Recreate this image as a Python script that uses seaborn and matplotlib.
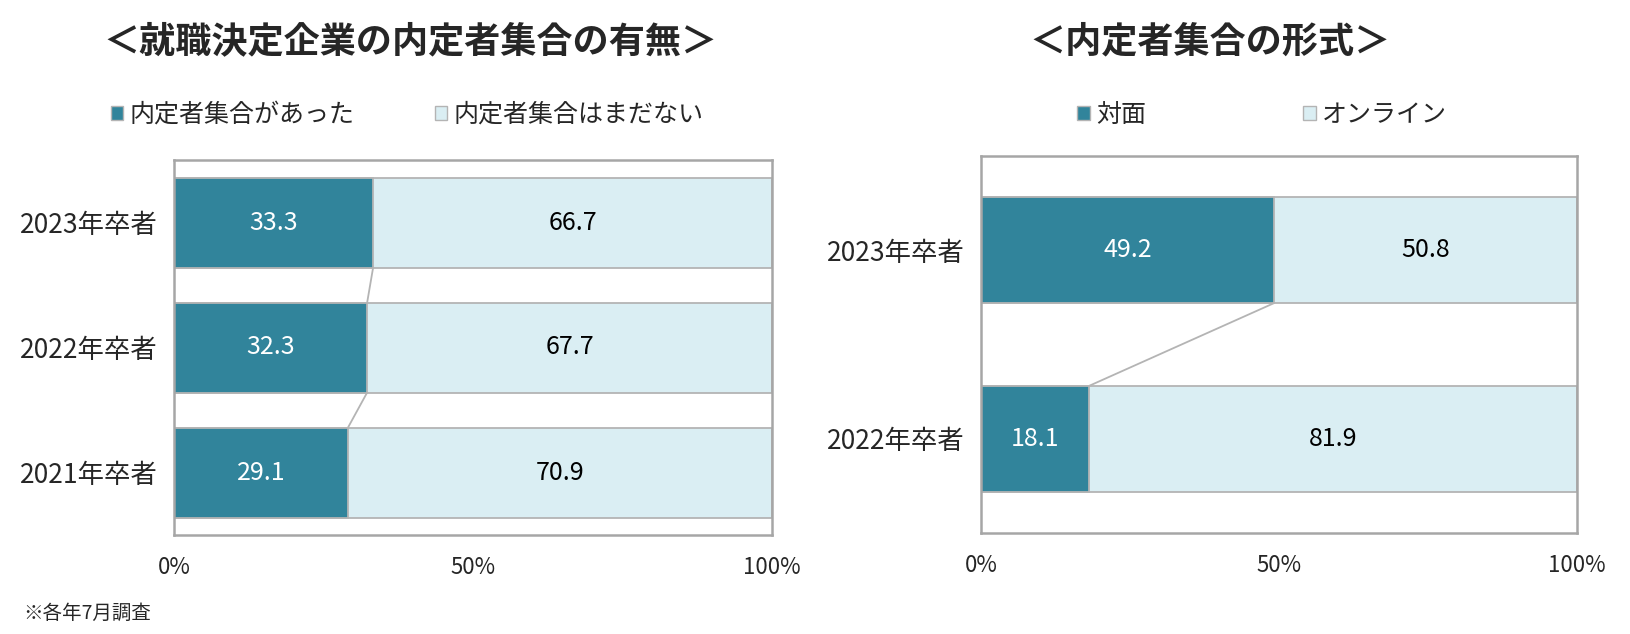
import numpy as np
import pandas as pd
import matplotlib
matplotlib.use("Agg")
import matplotlib.pyplot as plt
from matplotlib.patches import Patch
import seaborn as sns

# ---- data ----
left_title = "＜就職決定企業の内定者集合の有無＞"
left_cats = ["2023年卒者", "2022年卒者", "2021年卒者"]
left_a = [33.3, 32.3, 29.1]          # 内定者集合があった
left_b = [66.7, 67.7, 70.9]          # 内定者集合はまだない
left_series = ["内定者集合があった", "内定者集合はまだない"]

right_title = "＜内定者集合の形式＞"
right_cats = ["2023年卒者", "2022年卒者"]
right_a = [49.2, 18.1]               # 対面
right_b = [50.8, 81.9]               # オンライン
right_series = ["対面", "オンライン"]

x_ticks = [0, 50, 100]
x_ticklabels = ["0%", "50%", "100%"]
footnote = "※各年7月調査"

# ---- style ----
sns.set_style("white")
plt.rcParams["font.family"] = ["Noto Sans CJK JP", "DejaVu Sans"]

DARK = "#31849b"
LIGHT = "#daeef3"
EDGE = "#b4b4b4"
SPINE = "#a6a6a6"

W, H = 1630, 634
fig = plt.figure(figsize=(W / 100, H / 100), dpi=100)
ax1 = fig.add_axes([174 / W, 1 - 535 / H, (772 - 174) / W, (535 - 160) / H])
ax2 = fig.add_axes([981 / W, 1 - 533 / H, (1577 - 981) / W, (533 - 156) / H])


def draw(ax, cats, a, b, width):
    n = len(cats)
    df = pd.DataFrame({"cat": cats, "a": a, "b": b})
    df["total"] = df["a"] + df["b"]
    sns.barplot(data=df, y="cat", x="total", color=LIGHT, saturation=1,
                width=width, edgecolor=EDGE, linewidth=1.3, ax=ax, orient="h")
    sns.barplot(data=df, y="cat", x="a", color=DARK, saturation=1,
                width=width, edgecolor=EDGE, linewidth=1.3, ax=ax, orient="h")
    for i in range(n):
        ax.text(a[i] / 2, i, f"{a[i]:.1f}", ha="center", va="center",
                color="white", fontsize=18)
        ax.text(a[i] + b[i] / 2, i, f"{b[i]:.1f}", ha="center", va="center",
                color="black", fontsize=18)
    for i in range(n - 1):
        ax.plot([a[i], a[i + 1]], [i + width / 2, i + 1 - width / 2],
                color=EDGE, lw=1.3, zorder=3)
    ax.set_xlim(0, 100)
    ax.set_ylim(n - 0.5, -0.5)
    ax.set_xlabel("")
    ax.set_ylabel("")
    ax.set_xticks(x_ticks)
    ax.set_xticklabels(x_ticklabels, fontsize=16)
    ax.tick_params(axis="x", direction="in", length=7, width=1.2,
                   color=SPINE, pad=15)
    ax.tick_params(axis="y", which="major", length=0, pad=12, labelsize=19)
    ax.set_yticks([i + 0.5 for i in range(n - 1)], minor=True)
    ax.tick_params(axis="y", which="minor", direction="in", length=5,
                   width=1.2, color=SPINE)
    for s in ax.spines.values():
        s.set_visible(True)
        s.set_color(SPINE)
        s.set_linewidth(1.8)


draw(ax1, left_cats, left_a, left_b, 0.72)
draw(ax2, right_cats, right_a, right_b, 0.56)

# titles
fig.text(410 / W, 1 - 42 / H, left_title, ha="center", va="center",
         fontsize=26, fontweight="bold")
fig.text(1210 / W, 1 - 42 / H, right_title, ha="center", va="center",
         fontsize=26, fontweight="bold")

# legends
def legend(series, x, y, colsp):
    handles = [Patch(facecolor=DARK, edgecolor=EDGE, label=series[0]),
               Patch(facecolor=LIGHT, edgecolor=EDGE, label=series[1])]
    fig.legend(handles=handles, loc="center left", bbox_to_anchor=(x, y),
               bbox_transform=fig.transFigure, ncol=2, frameon=False,
               fontsize=18, handlelength=0.5, handleheight=0.5,
               handletextpad=0.25, columnspacing=colsp, borderpad=0,
               borderaxespad=0)

legend(left_series, 111 / W, 1 - 115 / H, 3.2)
legend(right_series, 1077 / W, 1 - 115 / H, 6.3)

fig.text(23 / W, 1 - 613 / H, footnote, ha="left", va="center", fontsize=14)

fig.savefig("out.png", dpi=100)
